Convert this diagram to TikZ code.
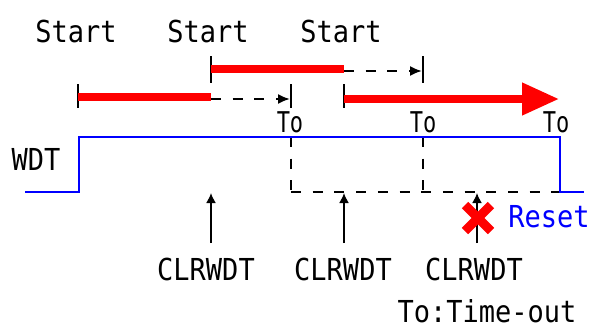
\documentclass[tikz,border=0pt]{standalone}
\usepackage{fontspec}
\newfontfamily\pix{DejaVu Sans Mono}
\usetikzlibrary{arrows.meta}
\newcommand\tallbox[1]{\scalebox{1}[1.12]{#1}}
\begin{document}
\begin{tikzpicture}[x=1pt,y=-1pt,
  lbl/.style={font=\pix\fontsize{27}{27}\selectfont, inner sep=0pt, anchor=center},
  tolbl/.style={font=\pix\fontsize{22}{22}\selectfont, inner sep=0pt, anchor=center},
  redbar/.style={red, line width=7.5pt},
  tickline/.style={black, line width=2pt},
  dashline/.style={black, line width=2pt, dash pattern=on 10pt off 11.7pt},
  dasharrow/.style={dashline, -{Latex[length=12pt,width=10pt]}},
  wdtline/.style={blue, line width=2.5pt},
  clrarrow/.style={black, line width=1.6pt, -{Latex[length=10pt,width=10pt]}}]
\useasboundingbox[fill=white] (0,0) rectangle (590,333);

% labels
\node[lbl] (s1) at (76,31) {\tallbox{Start}};
\node[lbl] (s2) at (208,31) {\tallbox{Start}};
\node[lbl] (s3) at (341,31) {\tallbox{Start}};
\node[lbl] (wdt) at (36,159) {\tallbox{WDT}};
\node[tolbl] (to1) at (290,122) {\scalebox{1}[1.3]{To}};
\node[tolbl] (to2) at (423,122) {\scalebox{1}[1.3]{To}};
\node[tolbl] (to3) at (556,122) {\scalebox{1}[1.3]{To}};
\node[lbl] (c1) at (206,269) {\tallbox{CLRWDT}};
\node[lbl] (c2) at (343,269) {\tallbox{CLRWDT}};
\node[lbl] (c3) at (474,269) {\tallbox{CLRWDT}};
\node[lbl, text=blue] (reset) at (549,217) {\tallbox{Reset}};
\node[lbl] (note) at (487,311) {\tallbox{To:Time-out}};

% coordinates
\coordinate (a0) at (78,97);
\coordinate (a1) at (211,97);
\coordinate (a1d) at (211,99);
\coordinate (a2) at (290,99);
\coordinate (b0) at (211,69);
\coordinate (b1) at (344,69);
\coordinate (b1d) at (344,71);
\coordinate (b2) at (422,71);
\coordinate (r0) at (344,99);
\coordinate (r1) at (559,99);

% ticks
\draw[tickline] (78,84) -- (78,108);
\draw[tickline] (291,84) -- (291,108);
\draw[tickline] (344,84) -- (344,108);
\draw[tickline] (211,56) -- (211,83);
\draw[tickline] (423,56) -- (423,83);

% red timers
\draw[redbar] (a0) -- (a1);
\draw[dasharrow] (a1d) -- (a2);
\draw[redbar] (b0) -- (b1);
\draw[dasharrow] (b1d) -- (b2);
\draw[redbar, -{Triangle[length=37pt,width=31pt]}] (r0) -- (r1);

% WDT waveform
\coordinate (w0) at (25,192);
\coordinate (w1) at (79,192);
\coordinate (w2) at (79,137);
\coordinate (w3) at (560,137);
\coordinate (w4) at (560,192);
\coordinate (w5) at (584,192);
\draw[dashline] (291,137) -- (291,192);
\draw[dashline] (423,137) -- (423,192);
\draw[dashline] (291,192) -- (560,192);
\draw[wdtline] (w0) -- (w1) -- (w2) -- (w3) -- (w4) -- (w5);

% CLRWDT arrows
\coordinate (t1) at (211,193);
\coordinate (t2) at (344,193);
\coordinate (t3) at (477,193);
\draw[clrarrow] (211,243) -- (t1);
\draw[clrarrow] (344,243) -- (t2);
\draw[clrarrow] (477,243) -- (t3);

% red cross
\coordinate (x0) at (478,218);
\draw[red, line width=9pt] (465,205) -- (491,231);
\draw[red, line width=9pt] (465,231) -- (491,205);
\end{tikzpicture}
\end{document}
